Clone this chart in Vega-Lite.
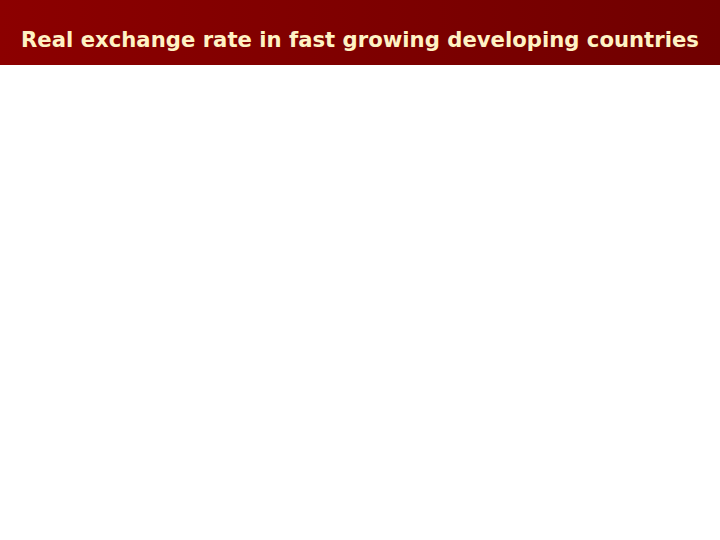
{
  "$schema": "https://vega.github.io/schema/vega-lite/v6.json",
  "width": 720,
  "height": 540,
  "autosize": {"type": "fit", "contains": "padding"},
  "padding": 0,
  "background": "white",
  "config": {"view": {"stroke": null}},
  "data": {"values": [{"title": "Real exchange rate in fast growing developing countries"}]},
  "layer": [
    {
      "mark": {
        "type": "rect",
        "fill": {
          "gradient": "linear",
          "x1": 0, "y1": 0, "x2": 1, "y2": 0,
          "stops": [
            {"offset": 0, "color": "#8c0000"},
            {"offset": 1, "color": "#700000"}
          ]
        },
        "fillOpacity": 1
      },
      "encoding": {
        "x": {"value": 0},
        "x2": {"value": 720},
        "y": {"value": 0},
        "y2": {"value": 65}
      }
    },
    {
      "mark": {
        "type": "text",
        "font": "DejaVu Sans",
        "fontWeight": "bold",
        "fontSize": 21.2,
        "color": "#fff2c4",
        "align": "center",
        "baseline": "alphabetic"
      },
      "encoding": {
        "text": {"field": "title", "type": "nominal"},
        "x": {"value": 360},
        "y": {"value": 47}
      }
    }
  ]
}
